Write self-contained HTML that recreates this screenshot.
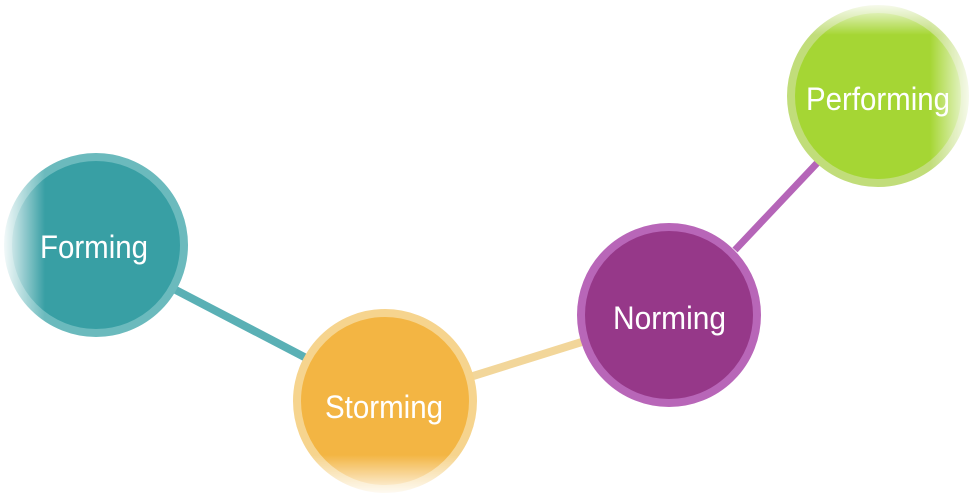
<!DOCTYPE html>
<html><head><meta charset="utf-8"><style>
html,body{margin:0;padding:0;background:#fff;}
svg{display:block}
text{font-family:"Liberation Sans Narrow","Liberation Sans",sans-serif;fill:#fff;font-size:32px;}
</style></head><body>
<svg width="976" height="498" viewBox="0 0 976 498" xmlns="http://www.w3.org/2000/svg">
<defs>
<linearGradient id="fl" x1="0" y1="0" x2="1" y2="0">
<stop offset="0" stop-color="#fff" stop-opacity="1"/><stop offset="1" stop-color="#fff" stop-opacity="0"/></linearGradient>
<linearGradient id="sb" x1="0" y1="0" x2="0" y2="1">
<stop offset="0" stop-color="#fff" stop-opacity="0"/><stop offset="1" stop-color="#fff" stop-opacity="1"/></linearGradient>
<linearGradient id="pr" x1="0" y1="0" x2="1" y2="0">
<stop offset="0" stop-color="#fff" stop-opacity="0"/><stop offset="1" stop-color="#fff" stop-opacity="1"/></linearGradient>
<linearGradient id="pt" x1="0" y1="1" x2="0" y2="0">
<stop offset="0" stop-color="#fff" stop-opacity="0"/><stop offset="1" stop-color="#fff" stop-opacity="1"/></linearGradient>
</defs>
<line x1="170" y1="287" x2="310" y2="360" stroke="#5ab0b5" stroke-width="8"/>
<line x1="470" y1="377" x2="585" y2="341" stroke="#f2d69a" stroke-width="8"/>
<line x1="735" y1="250" x2="820" y2="160" stroke="#b565b8" stroke-width="7"/>

<circle cx="96" cy="245" r="88" fill="#389fa4" stroke="#6bbabd" stroke-width="8"/>
<circle cx="385" cy="401" r="88" fill="#f3b543" stroke="#f6d48e" stroke-width="8"/>
<circle cx="669" cy="315" r="88" fill="#963889" stroke="#b866b8" stroke-width="8"/>
<circle cx="878" cy="96" r="87" fill="#a5d634" stroke="#c1dd7a" stroke-width="8"/>

<rect x="0" y="150" width="45" height="200" fill="url(#fl)"/>
<rect x="280" y="455" width="210" height="43" fill="url(#sb)"/>
<rect x="930" y="0" width="46" height="200" fill="url(#pr)"/>
<rect x="780" y="0" width="196" height="35" fill="url(#pt)"/>

<text x="40" y="258" textLength="108" lengthAdjust="spacingAndGlyphs">Forming</text>
<text x="325" y="418" textLength="118" lengthAdjust="spacingAndGlyphs">Storming</text>
<text x="613" y="329" textLength="113" lengthAdjust="spacingAndGlyphs">Norming</text>
<text x="806" y="110" textLength="144" lengthAdjust="spacingAndGlyphs">Performing</text>
</svg>
</body></html>
